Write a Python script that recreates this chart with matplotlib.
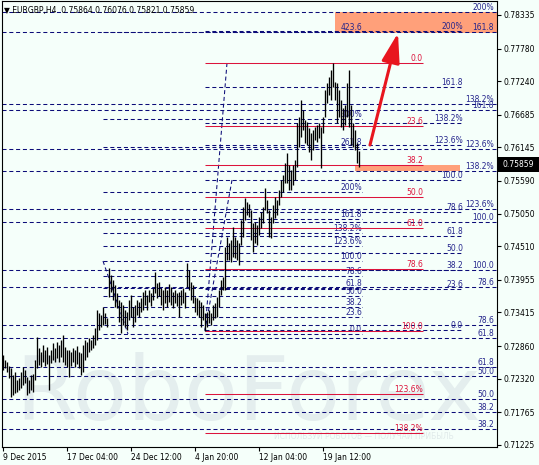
import matplotlib
matplotlib.use("Agg")
import matplotlib.pyplot as plt
from matplotlib.patches import Rectangle
import matplotlib.transforms as mtransforms

# ---------------- data ----------------
title_text = "\u25bc EURGBP,H4  0.75864 0.76076 0.75821 0.75859"
last_price = 0.75859

bar_high = [0.7271, 0.7263, 0.7260, 0.7253, 0.7250, 0.7238, 0.7243, 0.7230, 0.7233, 0.7243,
            0.7251, 0.7246, 0.7235, 0.7230, 0.7238, 0.7240, 0.7263, 0.7301, 0.7283, 0.7276,
            0.7288, 0.7279, 0.7284, 0.7271, 0.7279, 0.7291, 0.7283, 0.7293, 0.7288, 0.7296,
            0.7304, 0.7284, 0.7279, 0.7279, 0.7276, 0.7283, 0.7279, 0.7286, 0.7276, 0.7274,
            0.7288, 0.7296, 0.7293, 0.7299, 0.7296, 0.7304, 0.7316, 0.7346, 0.7341, 0.7337,
            0.7351, 0.7341, 0.7332, 0.7415, 0.7403, 0.7395, 0.7387, 0.7374, 0.7362, 0.7359,
            0.7354, 0.7346, 0.7342, 0.7362, 0.7370, 0.7351, 0.7354, 0.7362, 0.7359, 0.7365,
            0.7375, 0.7379, 0.7370, 0.7379, 0.7374, 0.7382, 0.7408, 0.7390, 0.7392, 0.7382,
            0.7379, 0.7384, 0.7379, 0.7389, 0.7384, 0.7375, 0.7379, 0.7374, 0.7375, 0.7379,
            0.7382, 0.7375, 0.7423, 0.7412, 0.7392, 0.7387, 0.7367, 0.7365, 0.7362, 0.7359,
            0.7354, 0.7341, 0.7342, 0.7346, 0.7341, 0.7354, 0.7357, 0.7367, 0.7379, 0.7395,
            0.7400, 0.7450, 0.7466, 0.7456, 0.7461, 0.7483, 0.7466, 0.7461, 0.7456, 0.7494,
            0.7516, 0.7531, 0.7524, 0.7521, 0.7511, 0.7490, 0.7491, 0.7486, 0.7499, 0.7508,
            0.7516, 0.7547, 0.7528, 0.7511, 0.7499, 0.7519, 0.7532, 0.7528, 0.7544, 0.7561,
            0.7569, 0.7589, 0.7605, 0.7585, 0.7577, 0.7585, 0.7594, 0.7655, 0.7665, 0.7693,
            0.7676, 0.7660, 0.7656, 0.7647, 0.7638, 0.7643, 0.7648, 0.7651, 0.7655, 0.7648,
            0.7665, 0.7709, 0.7721, 0.7731, 0.7743, 0.7754, 0.7723, 0.7721, 0.7709, 0.7693,
            0.7680, 0.7685, 0.7721, 0.7743, 0.7685, 0.7655, 0.7643, 0.7622, 0.7608]

bar_low = [0.7246, 0.7250, 0.7243, 0.7233, 0.7202, 0.7205, 0.7208, 0.7210, 0.7213, 0.7217,
           0.7222, 0.7225, 0.7205, 0.7208, 0.7213, 0.7210, 0.7230, 0.7250, 0.7255, 0.7251,
           0.7260, 0.7253, 0.7256, 0.7213, 0.7258, 0.7263, 0.7260, 0.7266, 0.7260, 0.7268,
           0.7260, 0.7255, 0.7251, 0.7235, 0.7253, 0.7260, 0.7251, 0.7256, 0.7250, 0.7238,
           0.7243, 0.7263, 0.7268, 0.7276, 0.7279, 0.7283, 0.7288, 0.7296, 0.7313, 0.7317,
           0.7321, 0.7322, 0.7317, 0.7367, 0.7375, 0.7362, 0.7351, 0.7349, 0.7326, 0.7308,
           0.7321, 0.7317, 0.7313, 0.7329, 0.7334, 0.7317, 0.7326, 0.7337, 0.7334, 0.7342,
           0.7346, 0.7354, 0.7346, 0.7359, 0.7352, 0.7362, 0.7374, 0.7365, 0.7369, 0.7354,
           0.7346, 0.7357, 0.7351, 0.7359, 0.7354, 0.7349, 0.7357, 0.7352, 0.7334, 0.7354,
           0.7357, 0.7349, 0.7384, 0.7379, 0.7362, 0.7357, 0.7342, 0.7337, 0.7334, 0.7317,
           0.7329, 0.7311, 0.7317, 0.7324, 0.7321, 0.7329, 0.7332, 0.7334, 0.7351, 0.7370,
           0.7379, 0.7379, 0.7428, 0.7428, 0.7425, 0.7433, 0.7432, 0.7428, 0.7420, 0.7453,
           0.7466, 0.7494, 0.7503, 0.7499, 0.7461, 0.7442, 0.7456, 0.7453, 0.7470, 0.7481,
           0.7490, 0.7511, 0.7506, 0.7466, 0.7465, 0.7490, 0.7498, 0.7503, 0.7519, 0.7532,
           0.7541, 0.7556, 0.7556, 0.7544, 0.7544, 0.7552, 0.7561, 0.7582, 0.7615, 0.7632,
           0.7643, 0.7622, 0.7618, 0.7607, 0.7594, 0.7610, 0.7627, 0.7623, 0.7630, 0.7580,
           0.7638, 0.7665, 0.7688, 0.7701, 0.7693, 0.7714, 0.7693, 0.7655, 0.7665, 0.7648,
           0.7643, 0.7651, 0.7665, 0.7648, 0.7618, 0.7615, 0.7610, 0.7589, 0.7582]

ytick_values = [0.78335, 0.77780, 0.77240, 0.76685, 0.76145, 0.75590, 0.75050,
                0.74510, 0.73955, 0.73415, 0.72860, 0.72320, 0.71765, 0.71225]

xtick_pos = [0, 32, 64, 96, 128, 160]
xtick_labels = ["9 Dec 2015", "17 Dec 04:00", "24 Dec 12:00",
                "4 Jan 20:00", "12 Jan 04:00", "19 Jan 12:00"]

# full-width fibonacci levels (dashed navy)
full_levels = [0.78385, 0.78059, 0.76863, 0.76764, 0.76119, 0.75755, 0.75126, 0.74911,
               0.74117, 0.73836, 0.73207, 0.72992, 0.72513, 0.72364, 0.71984, 0.71769, 0.71487]
full_labels = ["200%", "161.8", "138.2%", "161.8", "123.6%", "138.2%", "123.6%", "100.0",
               "100.0", "78.6", "78.6", "61.8", "61.8", "50.0", "50.0", "38.2", "38.2"]

# expansion levels starting mid-December (dashed navy)
exp_levels = [0.78054, 0.76615, 0.76152, 0.75407, 0.74961, 0.74729, 0.74514, 0.74266,
              0.74018, 0.73819, 0.73687, 0.73505, 0.73340, 0.73059]
exp_labels = ["423.6", "300%", "261.8", "200%", "161.8", "138.2%", "123.6%", "100.0",
              "78.6", "61.8", "50.0", "38.2", "23.6", "0.0"]

# retracement levels from the January low (solid red)
red_levels = [0.77541, 0.76499, 0.75854, 0.75325, 0.74812, 0.74134, 0.73108, 0.72066, 0.71421]
red_labels = ["0.0", "23.6", "38.2", "50.0", "61.0", "78.6", "100.0", "123.6%", "138.2%"]

# expansion levels from the January low (dashed navy)
jan_levels = [0.78071, 0.77144, 0.76549, 0.76185, 0.75606, 0.75075, 0.74680, 0.74398,
              0.74117, 0.73803, 0.73125]
jan_labels = ["200%", "161.8", "138.2%", "123.6%", "100.0", "78.6", "61.8", "50.0",
              "38.2", "23.6", "0.0"]

# ---------------- styling ----------------
W, H = 539, 465
BG = "#f5fffa"
NAVY = "#0c0c78"
LBL_NAVY = "#25258c"
RED = "#dc143c"
SALMON = "#ffa07a"
ARROW_RED = "#e8161e"
FS = 5.5
plt.rcParams["lines.scale_dashes"] = False
plt.rcParams["font.family"] = ["DejaVu Sans"]
DASH = (0, (2.9, 2.0))

fig = plt.figure(figsize=(W / 100, H / 100), dpi=100)
fig.patch.set_facecolor(BG)
ax = fig.add_axes([2 / W, 18 / H, 495 / W, 446 / H])
ax.set_facecolor(BG)
ax.set_xlim(-0.5, 247)
ax.set_ylim(0.71190, 0.785665)

# watermark
ax.text(0.497, 0.060, "RoboForex", transform=ax.transAxes, fontsize=64,
        color="#e4eeee", ha="center", va="baseline", zorder=0.3)
ax.text(0.731, 0.018, "ИСПОЛЬЗУЙ РОБОТОВ — ПОЛУЧАЙ ПРИБЫЛЬ", transform=ax.transAxes,
        fontsize=5.5, color="#e0eaea", ha="center", va="baseline", zorder=0.3)

# rectangles
ax.add_patch(Rectangle((166, 0.78032), 247 - 166, 0.78389 - 0.78032,
                       fc=SALMON, ec="none", zorder=1.5))
ax.add_patch(Rectangle((176, 0.75760), 228.5 - 176, 0.75854 - 0.75760,
                       fc=SALMON, ec="none", zorder=1.5))


def draw_levels(levels, labels, x0, x1, lx, color, lcolor, ls, z):
    ax.hlines(levels, x0, x1, colors=color, linestyles=[ls], lw=0.75, zorder=z)
    for lv, lb in zip(levels, labels):
        ax.annotate(lb, xy=(lx, lv), xytext=(0, 1.4), textcoords="offset points",
                    ha="right", va="baseline", fontsize=FS, color=lcolor,
                    zorder=z + 0.1, annotation_clip=False)


draw_levels(full_levels, full_labels, -0.5, 247, 245.5, NAVY, LBL_NAVY, DASH, 2.0)
draw_levels(exp_levels, exp_labels, 50, 179.5, 179.5, NAVY, LBL_NAVY, DASH, 2.1)
draw_levels(jan_levels, jan_labels, 101, 230, 230, NAVY, LBL_NAVY, DASH, 2.2)
draw_levels(red_levels, red_labels, 101, 210, 210, RED, RED, "solid", 2.4)

# fibonacci anchor trend lines
ax.plot([112, 101], [0.77541, 0.73108], color=NAVY, lw=0.75, linestyle=DASH, zorder=2.3)
ax.plot([114.5, 101], [0.75606, 0.73125], color=NAVY, lw=0.75, linestyle=DASH, zorder=2.3)
ax.plot([50, 62.5], [0.74266, 0.73059], color=NAVY, lw=0.75, linestyle=DASH, zorder=2.3)

# price bars
x_idx = list(range(len(bar_high)))
ax.vlines(x_idx, bar_low, bar_high, colors="black", lw=0.95, zorder=6)

# arrow
ax.annotate("", xy=(197.5, 0.78037), xytext=(183.5, 0.76185),
            arrowprops=dict(arrowstyle="-|>,head_length=1.8,head_width=0.55",
                            color=ARROW_RED, lw=2.2, mutation_scale=10,
                            shrinkA=0, shrinkB=0), zorder=8)

# axes cosmetics
for sp in ax.spines.values():
    sp.set_color("black")
    sp.set_linewidth(0.8)
ax.yaxis.tick_right()
ax.set_yticks(ytick_values)
ax.set_yticklabels([f"{v:.5f}" for v in ytick_values])
ax.tick_params(axis="y", direction="out", length=3, width=0.8, pad=2,
               labelsize=FS, colors="black", left=False, right=True)
ax.set_xticks(xtick_pos)
ax.set_xticklabels(xtick_labels, ha="left")
ax.tick_params(axis="x", direction="out", length=3, width=0.8, pad=1.5,
               labelsize=FS, colors="black")

# last price box
trans = mtransforms.blended_transform_factory(ax.transAxes, ax.transData)
ax.add_patch(Rectangle((1.0, last_price - 0.00124), 42 / 495, 0.00248, transform=trans,
                       fc="black", ec="none", clip_on=False, zorder=10))
ax.text(1.0 + 21 / 495, last_price, f"{last_price:.5f}", transform=trans, color="white",
        ha="center", va="center", fontsize=FS, zorder=11, clip_on=False)

# title
fig.text(4 / W, 1 - 11 / H, title_text, fontsize=FS, color="black",
         ha="left", va="center", zorder=12)

fig.savefig("out.png", dpi=100, facecolor=BG)
